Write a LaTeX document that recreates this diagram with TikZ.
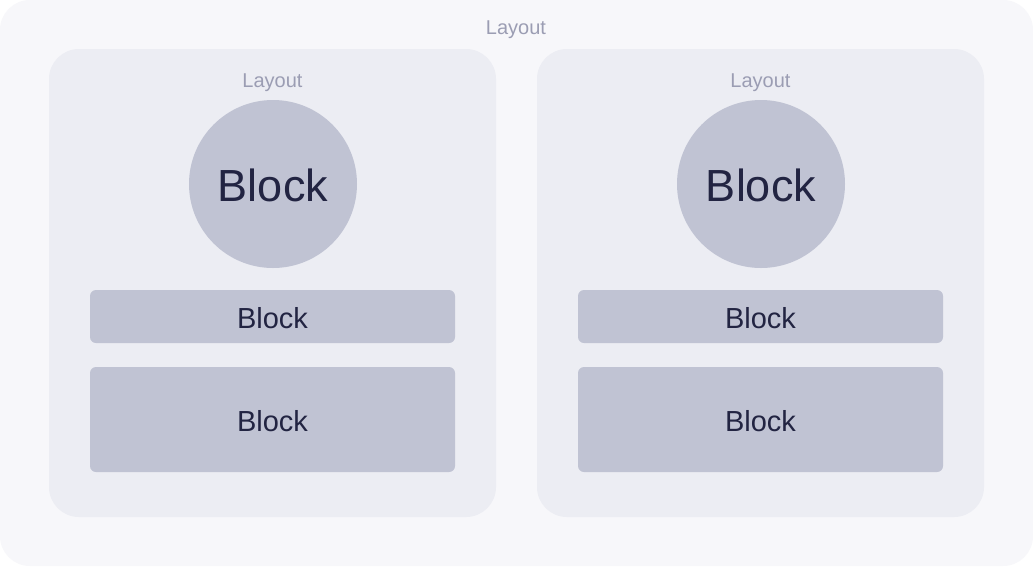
\documentclass[tikz,border=0pt]{standalone}
\usepackage{fontspec}
\setmainfont{Liberation Sans}
\usepackage{tikz}
\usetikzlibrary{positioning}

\definecolor{outerbg}{HTML}{F7F7FA}
\definecolor{panelbg}{HTML}{ECEDF3}
\definecolor{blockbg}{HTML}{C0C3D3}
\definecolor{labelgray}{HTML}{9B9DB3}
\definecolor{inkblue}{HTML}{222442}

\tikzset{
  layoutlbl/.style={text=labelgray, font=\fontsize{20}{24}\selectfont, inner sep=0pt},
  panel/.style={fill=panelbg, rounded corners=30pt, minimum width=447pt, minimum height=468pt, inner sep=0pt},
  roundblock/.style={circle, fill=blockbg, minimum size=168pt, inner sep=0pt, text=inkblue, text height=36pt, font=\fontsize{45}{50}\selectfont},
  barblock/.style={fill=blockbg, rounded corners=6pt, minimum width=365pt, inner sep=0pt, text=inkblue, text height=24pt, font=\fontsize{29}{32}\selectfont}
}

\begin{document}
\begin{tikzpicture}[x=1pt, y=-1pt]
  % fondo
  \useasboundingbox (0,0) rectangle (1033,566);
  \fill[white] (0,0) rectangle (1033,566);
  \fill[outerbg, rounded corners=30pt] (0,0) rectangle (1033,566);
  \node[layoutlbl] (toplbl) at (516,30) {Layout};

  % pannello sinistro
  \node[panel] (leftpanel) at (272.5,283) {};
  \node[layoutlbl] (leftlbl) at (272.5,83) {Layout};
  \node[roundblock] (leftcircle) at (273,184) {Block};
  \node[barblock, minimum height=53pt] (leftbar) at (272.5,316.5) {Block};
  \node[barblock, minimum height=105pt] (leftbox) at (272.5,419.5) {Block};

  % pannello destro
  \node[panel] (rightpanel) at (760.5,283) {};
  \node[layoutlbl] (rightlbl) at (760.5,83) {Layout};
  \node[roundblock] (rightcircle) at (761,184) {Block};
  \node[barblock, minimum height=53pt] (rightbar) at (760.5,316.5) {Block};
  \node[barblock, minimum height=105pt] (rightbox) at (760.5,419.5) {Block};
\end{tikzpicture}
\end{document}
